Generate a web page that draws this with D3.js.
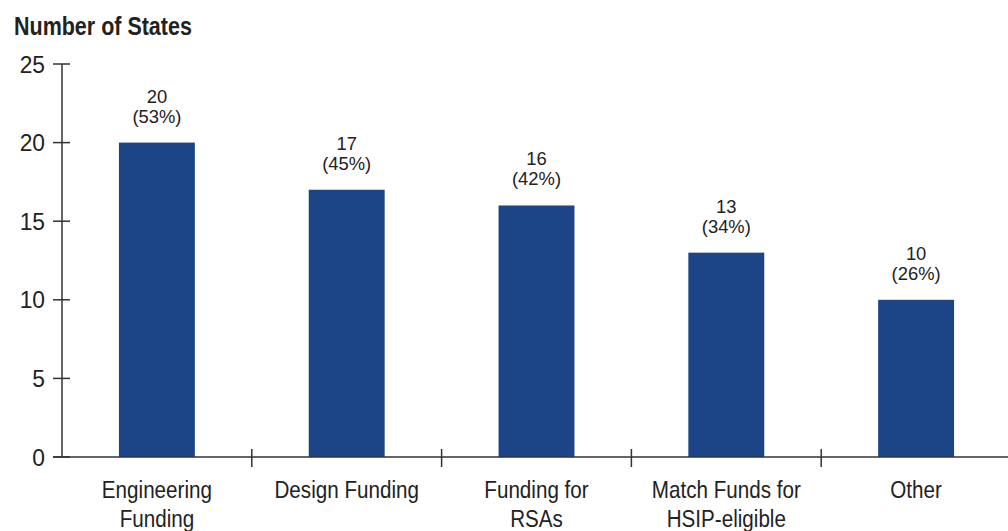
<!DOCTYPE html>
<html>
<head>
<meta charset="utf-8">
<script src="https://cdn.jsdelivr.net/npm/d3@7"></script>
<style>
  html, body { margin: 0; padding: 0; background: #fff; }
  svg { display: block; }
  text { font-family: "Liberation Sans", Arial, sans-serif; fill: #222; }
</style>
</head>
<body>
<svg id="chart" width="1008" height="531"></svg>
<script>
// Survey results: number of states reporting each use of funds
const categories = [
  ["Engineering", "Funding"],
  ["Design Funding"],
  ["Funding for", "RSAs"],
  ["Match Funds for", "HSIP-eligible"],
  ["Other"]
];
const states = [20, 17, 16, 13, 10];
const shares = ["53%", "45%", "42%", "34%", "26%"];
const yTicks = [0, 5, 10, 15, 20, 25];
const yTitle = "Number of States";

const svg = d3.select("#chart");
const W = 1008, H = 531;
const plotLeft = 62, plotRight = 1011, plotTop = 64, plotBottom = 457;
const narrow = 0.86; // horizontal squeeze for the condensed lettering

const x = d3.scaleBand()
  .domain(d3.range(categories.length))
  .range([plotLeft, plotRight])
  .paddingInner(0.6)
  .paddingOuter(0.3);
const step = x.step();

const y = d3.scaleLinear().domain([0, 25]).range([plotBottom, plotTop]);

const barColor = "#1c4588";
const axisColor = "#333";

// Title above the value axis
svg.append("text")
  .attr("transform", `translate(14,35) scale(${narrow},1)`)
  .attr("font-size", 25).attr("font-weight", "bold")
  .attr("fill", "#111")
  .text(yTitle);

// Bars
svg.selectAll("rect.bar")
  .data(states)
  .join("rect")
  .attr("class", "bar")
  .attr("x", (d, i) => x(i))
  .attr("width", x.bandwidth())
  .attr("y", d => y(d))
  .attr("height", d => y(0) - y(d))
  .attr("fill", barColor);

// Value labels: count and share
const lab = svg.selectAll("g.lab")
  .data(states)
  .join("g")
  .attr("class", "lab")
  .attr("transform", (d, i) => `translate(${x(i) + x.bandwidth() / 2},${y(d)}) scale(1.05,1)`);
lab.append("text")
  .attr("text-anchor", "middle").attr("y", -40).attr("font-size", 17.5)
  .text(d => d);
lab.append("text")
  .attr("text-anchor", "middle").attr("y", -20).attr("font-size", 17.5)
  .text((d, i) => `(${shares[i]})`);

// Value axis
const yAxis = svg.append("g");
yAxis.append("line")
  .attr("x1", plotLeft).attr("x2", plotLeft)
  .attr("y1", y(25)).attr("y2", y(0))
  .attr("stroke", axisColor).attr("stroke-width", 1.5);
yAxis.selectAll("line.tk")
  .data(yTicks).join("line").attr("class", "tk")
  .attr("x1", plotLeft - 9).attr("x2", plotLeft + 8)
  .attr("y1", d => y(d)).attr("y2", d => y(d))
  .attr("stroke", axisColor).attr("stroke-width", 1.5);
yAxis.selectAll("text")
  .data(yTicks).join("text")
  .attr("transform", d => `translate(45,${y(d)}) scale(0.95,1)`)
  .attr("dy", "0.36em")
  .attr("text-anchor", "end").attr("font-size", 24)
  .text(d => d);

// Category axis
const xAxis = svg.append("g");
xAxis.append("line")
  .attr("x1", plotLeft - 9).attr("x2", W)
  .attr("y1", y(0)).attr("y2", y(0))
  .attr("stroke", axisColor).attr("stroke-width", 1.5);
xAxis.selectAll("line.sep")
  .data(d3.range(1, categories.length)).join("line").attr("class", "sep")
  .attr("x1", i => plotLeft + i * step).attr("x2", i => plotLeft + i * step)
  .attr("y1", y(0) - 8).attr("y2", y(0) + 10)
  .attr("stroke", axisColor).attr("stroke-width", 1.5);
const cat = xAxis.selectAll("text")
  .data(categories).join("text")
  .attr("text-anchor", "middle").attr("font-size", 24)
  .attr("transform", (d, i) => `translate(${x(i) + x.bandwidth() / 2},498) scale(${narrow},1)`);
cat.selectAll("tspan")
  .data(d => d).join("tspan")
  .attr("x", 0).attr("y", (d, j) => j * 29)
  .text(d => d);
</script>
</body>
</html>
